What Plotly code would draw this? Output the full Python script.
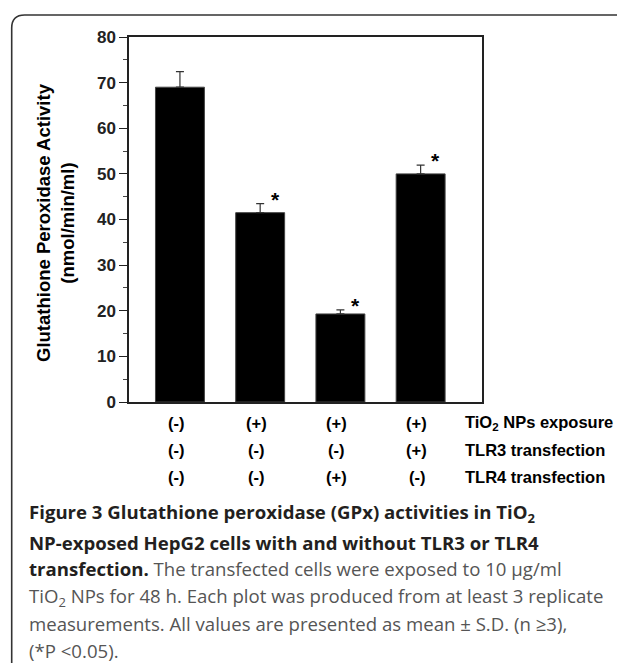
import plotly.graph_objects as go

# ---- data ----
groups = ["G1", "G2", "G3", "G4"]
gpx_activity = [69.0, 41.5, 19.3, 50.0]
gpx_sd = [3.4, 2.0, 0.9, 1.9]
significant = [False, True, True, True]

row_labels = ["TiO<sub>2</sub> NPs exposure", "TLR3 transfection", "TLR4 transfection"]
tio2_row = ["(-)", "(+)", "(+)", "(+)"]
tlr3_row = ["(-)", "(-)", "(-)", "(+)"]
tlr4_row = ["(-)", "(-)", "(+)", "(-)"]

y_ticks = [0, 10, 20, 30, 40, 50, 60, 70, 80]

BOLD = '<span style="color:#231f20"><b>%s</b></span>'
caption_lines = [
    BOLD % "Figure 3 Glutathione peroxidase (GPx) activities in TiO<sub>2</sub>",
    BOLD % "NP-exposed HepG2 cells with and without TLR3 or TLR4",
    BOLD % "transfection." + " The transfected cells were exposed to 10 µg/ml",
    "TiO<sub>2</sub> NPs for 48 h. Each plot was produced from at least 3 replicate",
    "measurements. All values are presented as mean ± S.D. (n ≥3),",
    "(*P &lt;0.05).",
]

# ---- layout geometry (window pixels; page body has an 8px margin) ----
OFF = 8
WIN_W, WIN_H = 625, 663
W, H = WIN_W - OFF, WIN_H - OFF
plot_left, plot_right, plot_top, plot_bottom = 129, 482, 37, 402  # window px
L = plot_left - OFF
T = plot_top - OFF
R = W - (plot_right - OFF)
B = H - (plot_bottom - OFF)
PW = W - L - R
PH = H - T - B


def px2x(px):
    return (px - plot_left) / PW


def py2y(py):
    return (plot_bottom - py) / PH


xs = list(range(len(groups)))

fig = go.Figure()
fig.add_trace(go.Bar(
    x=xs, y=gpx_activity, width=0.61,
    marker=dict(color="black", line=dict(color="#444", width=1)),
    error_y=dict(type="data", array=gpx_sd, arrayminus=[0] * len(gpx_sd),
                 symmetric=False, width=4, thickness=1.2, color="#333"),
    showlegend=False,
))

chart_font = "Liberation Sans, Arial, sans-serif"
annotations = []

# asterisks
for i, (v, e, s) in enumerate(zip(gpx_activity, gpx_sd, significant)):
    if s:
        annotations.append(dict(
            x=i + 0.19, y=v + e, xref="x", yref="y", text="<b>*</b>",
            showarrow=False, yanchor="bottom", yshift=-9,
            font=dict(family=chart_font, size=21, color="black")))

# condition rows
row_y = [422.7, 450, 477]
for r_i, row in enumerate([tio2_row, tlr3_row, tlr4_row]):
    for i, t in enumerate(row):
        annotations.append(dict(
            x=i, y=py2y(row_y[r_i]), xref="x", yref="paper", text="<b>%s</b>" % t,
            showarrow=False, xshift=-4, yanchor="middle",
            font=dict(family=chart_font, size=16.5, color="black")))
    annotations.append(dict(
        x=px2x(463), y=py2y(row_y[r_i]), xref="paper", yref="paper",
        text="<b>%s</b>" % row_labels[r_i], showarrow=False,
        xanchor="left", yanchor="middle",
        font=dict(family=chart_font, size=16.5, color="black")))

# y-axis title
annotations.append(dict(
    x=px2x(55), y=py2y(223), xref="paper", yref="paper",
    text="<b>Glutathione Peroxidase Activity<br>(nmol/min/ml)</b>",
    textangle=-90, showarrow=False, xanchor="center", yanchor="middle",
    font=dict(family=chart_font, size=18.5, color="black")))

# caption
cap_y = [513, 542, 568, 597, 623, 650]
for t, cy in zip(caption_lines, cap_y):
    annotations.append(dict(
        x=px2x(27), y=py2y(cy), xref="paper", yref="paper", text=t,
        showarrow=False, xanchor="left", yanchor="middle", align="left",
        font=dict(family="Open Sans, sans-serif", size=18.6, color="#555555")))

# frame with rounded corner
x0, y0, rad = 11.7, 15, 13
path = "M {a},{b} L {a},{c} Q {a},{d} {e},{d} L {f},{d}".format(
    a=px2x(x0), b=py2y(WIN_H + 10), c=py2y(y0 + rad), d=py2y(y0),
    e=px2x(x0 + rad), f=px2x(WIN_W + 10))
shapes = [dict(type="path", path=path, xref="paper", yref="paper",
               line=dict(color="#333", width=1.6))]

fig.update_layout(
    width=W, height=H,
    margin=dict(l=L, r=R, t=T, b=B, pad=0),
    plot_bgcolor="white", paper_bgcolor="white",
    annotations=annotations, shapes=shapes,
    xaxis=dict(range=[-0.635, 3.765], showticklabels=False, ticks="",
               showline=True, mirror=True, linecolor="#222", linewidth=1.5,
               showgrid=False, zeroline=False, fixedrange=True),
    yaxis=dict(range=[0, 80], tickvals=y_ticks,
               ticktext=["<b>%d</b>" % v for v in y_ticks],
               ticks="outside", ticklen=8, tickwidth=1.2, tickcolor="#222",
               minor=dict(dtick=5, ticks="outside", ticklen=4, tickcolor="#444", tickwidth=1),
               showline=True, mirror=True, linecolor="#222", linewidth=1.5,
               showgrid=False, zeroline=False,
               tickfont=dict(family=chart_font, size=17, color="#222"),
               fixedrange=True),
    font=dict(family=chart_font),
)

fig.write_html("out.html")
